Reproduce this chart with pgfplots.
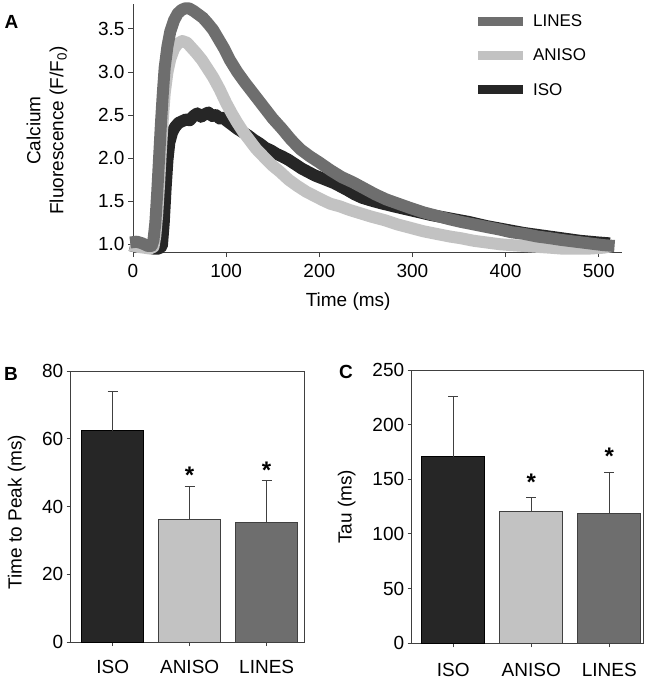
\documentclass[border=0pt]{standalone}
\usepackage{pgfplots}
\pgfplotsset{compat=1.18}
\usepackage{fontspec}
\setmainfont{Liberation Sans}
\definecolor{isoc}{HTML}{262626}
\definecolor{anisoc}{HTML}{C2C2C2}
\definecolor{linesc}{HTML}{6E6E6E}
\definecolor{axc}{HTML}{404040}
\newcommand{\fs}{\fontsize{19}{23}\selectfont}
\newcommand{\fst}{\bfseries\fontsize{24}{28}\selectfont}

\pgfplotstableread{
x y
-3 0.99
4 0.97
10 0.98
16 0.96
22 0.95
28 0.95
31 0.98
33 1.25
35 1.65
37 1.98
39 2.18
42 2.30
45 2.36
49 2.41
53 2.43
57 2.45
61 2.44
65 2.49
69 2.52
73 2.48
77 2.51
81 2.53
85 2.49
89 2.50
93 2.46
97 2.47
101 2.43
106 2.39
112 2.34
118 2.30
124 2.26
130 2.21
136 2.17
142 2.12
148 2.09
154 2.05
160 2.02
167 1.98
174 1.93
181 1.88
188 1.84
195 1.80
202 1.77
209 1.74
216 1.71
223 1.67
230 1.63
238 1.58
246 1.54
255 1.51
265 1.48
280 1.44
300 1.39
320 1.34
340 1.30
360 1.26
380 1.21
400 1.17
420 1.13
440 1.10
460 1.07
480 1.04
500 1.02
512 1.01
}\isotab

\pgfplotstableread{
x y
-3 0.99
5 0.97
12 0.96
18 0.95
22 0.97
24 1.10
26 1.35
28 1.70
30 2.10
32 2.45
34 2.75
37 3.00
40 3.15
44 3.27
48 3.33
53 3.36
58 3.34
63 3.28
68 3.22
74 3.14
80 3.04
86 2.94
93 2.80
100 2.64
106 2.52
112 2.41
118 2.31
125 2.21
132 2.11
140 2.02
149 1.92
158 1.84
167 1.75
176 1.68
186 1.61
195 1.56
204 1.51
212 1.47
222 1.44
232 1.40
244 1.36
256 1.32
270 1.28
284 1.23
298 1.19
312 1.15
326 1.12
340 1.09
352 1.07
366 1.04
380 1.02
394 1.00
406 0.99
420 0.98
434 0.97
448 0.96
460 0.95
475 0.95
490 0.95
505 0.96
515 0.98
}\anisotab

\pgfplotstableread{
x y
-3 1.02
4 1.03
10 1.01
16 0.98
20 0.98
22 1.05
24 1.25
26 1.60
28 2.00
30 2.40
32 2.75
34 3.05
37 3.30
40 3.47
44 3.60
48 3.68
52 3.72
56 3.74
60 3.74
65 3.71
70 3.67
75 3.63
80 3.57
86 3.49
92 3.38
98 3.27
104 3.14
112 3.00
120 2.88
130 2.74
140 2.60
150 2.46
160 2.34
170 2.21
180 2.10
190 2.02
200 1.95
212 1.86
224 1.78
236 1.72
248 1.65
260 1.58
272 1.52
285 1.47
298 1.42
312 1.37
326 1.33
340 1.29
352 1.26
366 1.23
380 1.20
394 1.17
406 1.14
420 1.12
434 1.09
448 1.07
460 1.05
475 1.03
490 1.01
505 0.99
517 0.98
}\linestab

\begin{document}
\begin{tikzpicture}
\path[use as bounding box] (0,0) rectangle (653pt,-682pt);
\pgfplotsset{
  mystyle/.style={
    scale only axis,
    /pgf/number format/assume math mode=true,
    tick label style={font=\fs, text=black},
    label style={font=\fs},
    tick align=outside,
    major tick length=5pt,
    axis line style={draw=axc, line width=1pt},
    every tick/.style={draw=axc, line width=1pt},
  },
  ebar/.style={error bars/.cd, y dir=plus, y explicit,
    error bar style={line width=1.2pt, draw=axc},
    error mark options={rotate=90, line width=1.2pt, mark size=5pt, draw=axc}},
}
% Panel A
\begin{axis}[mystyle,
  at={(133pt,-4pt)}, anchor=north west,
  width=489pt, height=248pt,
  xmin=0, xmax=525, ymin=0.91, ymax=3.79,
  axis x line*=bottom, axis y line*=left,
  xtick={0,100,...,500}, ytick={1,1.5,...,3.5},
  xticklabel style={yshift=-4pt},
  yticklabel style={/pgf/number format/.cd, fixed, fixed zerofill, precision=1},
  clip=false,
  xlabel={Time (ms)},
  xlabel style={at={(axis description cs:0.44,-0.2016)}, anchor=center},
  ylabel={Calcium\\Fluorescence (F/F\textsubscript{0})},
  ylabel style={at={(axis description cs:-0.176,0.49)}, anchor=center, align=center},
  legend style={draw=none, fill=none, at={(axis description cs:0.69,0.975)}, anchor=north west,
    font=\fontsize{17}{20}\selectfont, row sep=17pt, legend cell align=left},
  legend image code/.code={\draw[#1, line width=9pt, line cap=butt] (0pt,0pt) -- (45pt,0pt);
    \path[draw=none, fill=none] (45pt,0pt) -- (53pt,0pt);},
  reverse legend,
]
\addplot[isoc, line width=12pt, line join=round] table[x=x,y=y] {\isotab};
\addlegendentry{ISO}
\addplot[anisoc, line width=12pt, line join=round] table[x=x,y=y] {\anisotab};
\addlegendentry{ANISO}
\addplot[linesc, line width=12pt, line join=round] table[x=x,y=y] {\linestab};
\addlegendentry{LINES}
\end{axis}

% Panel B
\begin{axis}[mystyle,
  at={(70.7pt,-371pt)}, anchor=north west,
  width=233.3pt, height=271pt,
  xmin=-0.545, xmax=2.485, ymin=0, ymax=80,
  xtick={0,1,2}, xticklabels={ISO,ANISO,LINES},
  xticklabel style={yshift=-11pt},
  xtick pos=left, ytick pos=left,
  ytick={0,20,...,80}, major tick length=4pt,
  ylabel={Time to Peak (ms)},
  ylabel style={at={(axis description cs:-0.231,0.48)}, anchor=center},
]
\addplot[ybar, bar shift=0pt, bar width=62pt, fill=isoc, draw=black, line width=0.8pt, ebar]
  coordinates {(0,62.4) +- (0,11.5)};
\addplot[ybar, bar shift=0pt, bar width=62pt, fill=anisoc, draw=axc, line width=0.8pt, ebar]
  coordinates {(1,36.3) +- (0,9.6)};
\addplot[ybar, bar shift=0pt, bar width=62pt, fill=linesc, draw=axc, line width=0.8pt, ebar]
  coordinates {(2,35.3) +- (0,12.3)};
\node[font=\fst, anchor=base, yshift=-14pt] at (axis cs:1,50.9) {*};
\node[font=\fst, anchor=base, yshift=-14pt] at (axis cs:2,52.4) {*};
\end{axis}

% Panel C
\begin{axis}[mystyle,
  at={(411.7pt,-370pt)}, anchor=north west,
  width=231.6pt, height=273.3pt,
  xmin=-0.533, xmax=2.436, ymin=0, ymax=250,
  xtick={0,1,2}, xticklabels={ISO,ANISO,LINES},
  xticklabel style={yshift=-12pt},
  xtick pos=left, ytick pos=left,
  ytick={0,50,...,250}, major tick length=4pt,
  ylabel={Tau (ms)},
  ylabel style={at={(axis description cs:-0.281,0.5)}, anchor=center},
]
\addplot[ybar, bar shift=0pt, bar width=63pt, fill=isoc, draw=black, line width=0.8pt, ebar]
  coordinates {(0,170.7) +- (0,54.9)};
\addplot[ybar, bar shift=0pt, bar width=63pt, fill=anisoc, draw=axc, line width=0.8pt, ebar]
  coordinates {(1,121) +- (0,12.2)};
\addplot[ybar, bar shift=0pt, bar width=63pt, fill=linesc, draw=axc, line width=0.8pt, ebar]
  coordinates {(2,118.5) +- (0,37.9)};
\node[font=\fst, anchor=base, yshift=-14pt] at (axis cs:1,152.4) {*};
\node[font=\fst, anchor=base, yshift=-14pt] at (axis cs:2,176.8) {*};
\end{axis}

\node[font=\bfseries\fs] at (11.5pt,-21.5pt) {A};
\node[font=\bfseries\fs] at (11pt,-373.5pt) {B};
\node[font=\bfseries\fs] at (346pt,-371.5pt) {C};
\end{tikzpicture}
\end{document}
